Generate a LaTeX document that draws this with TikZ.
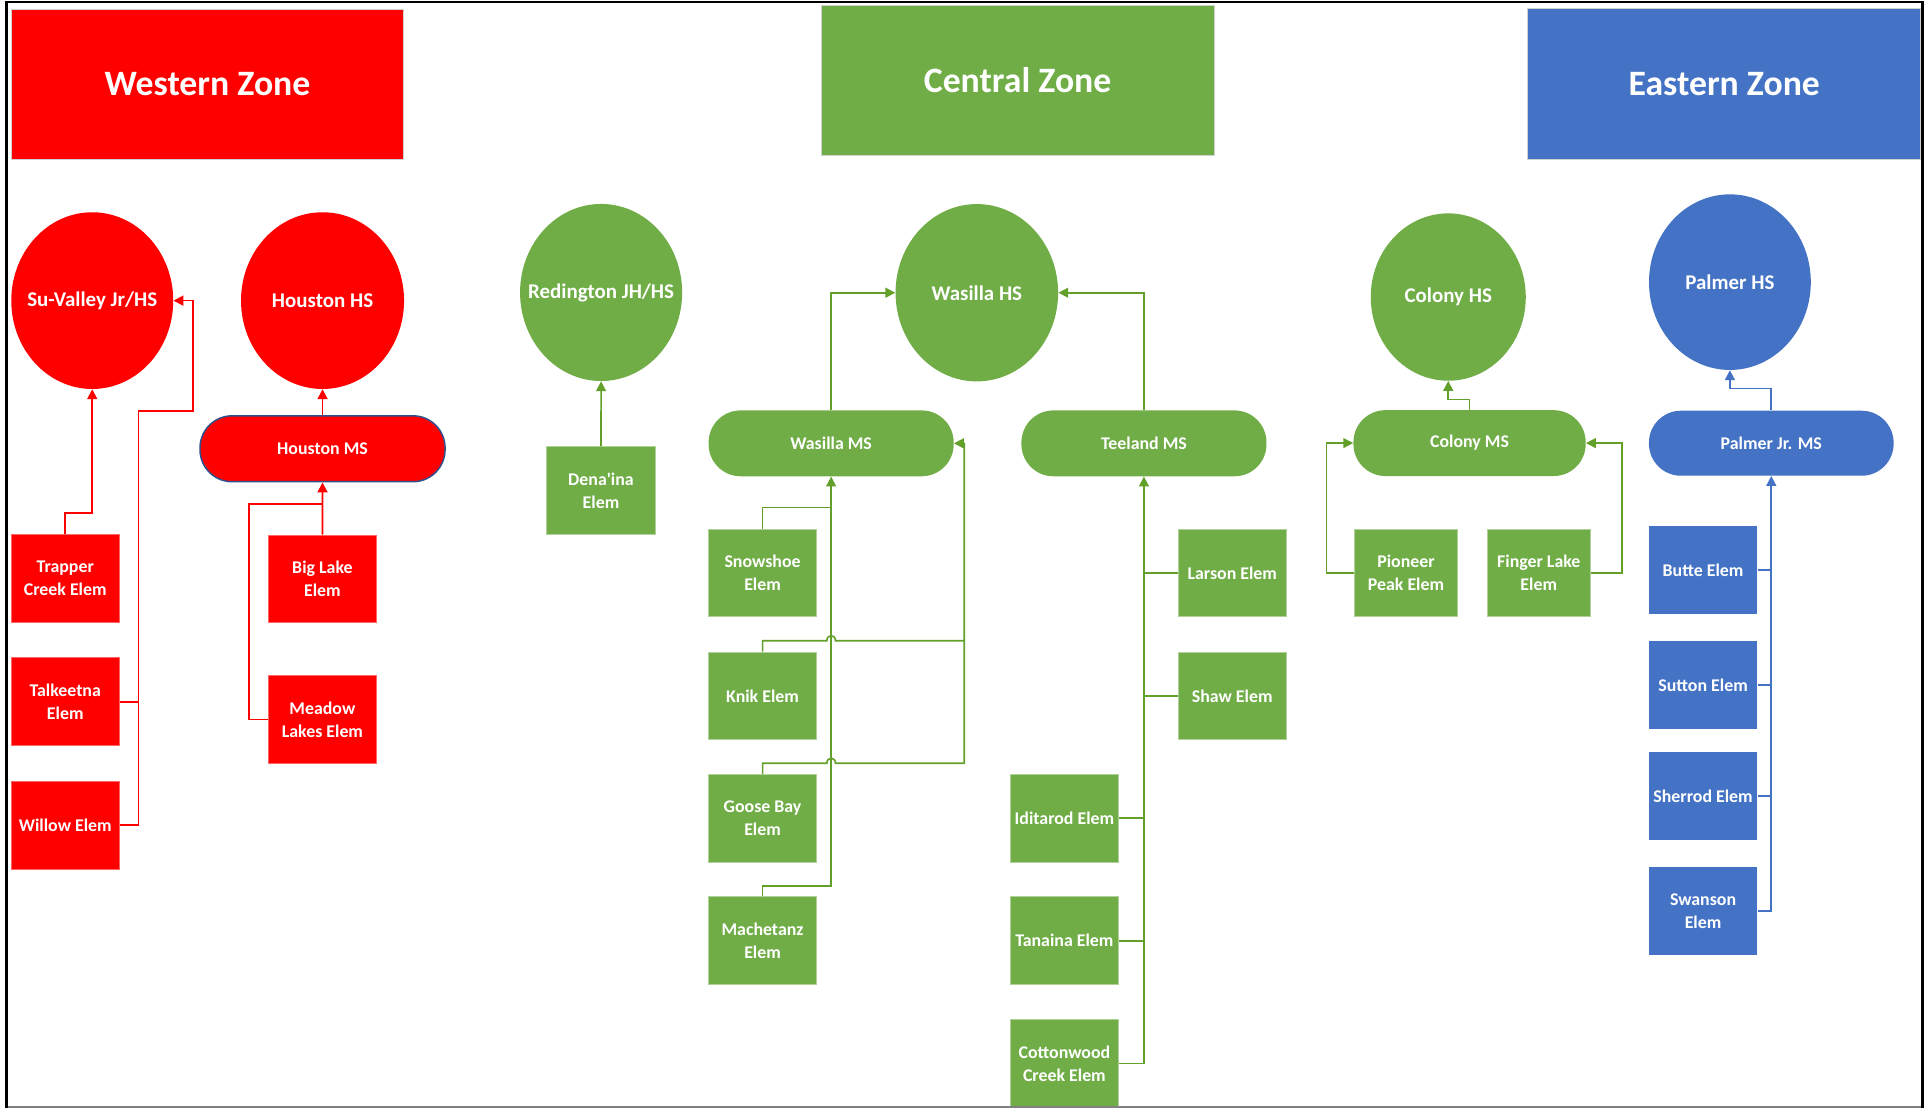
\documentclass[tikz,border=0pt]{standalone}
\usepackage{fontspec}
\setmainfont{Carlito}[Ligatures=TeXOff]
\usetikzlibrary{shapes.geometric,arrows.meta}
\definecolor{zred}{HTML}{FF0000}
\definecolor{zgreen}{HTML}{70AD47}
\definecolor{zblue}{HTML}{4472C4}
\definecolor{lgreen}{HTML}{62A02A}
\definecolor{hmsb}{HTML}{2F528F}
\begin{document}
\begin{tikzpicture}[x=1pt,y=-1pt,
  hdr/.style={rectangle, minimum width=319pt, minimum height=122pt, inner sep=0pt, text=white, font=\bfseries\fontsize{29}{34}\selectfont, draw=black!18, line width=0.8pt},
  hs/.style={ellipse, inner sep=0pt, text=white, font=\bfseries\fontsize{17}{20}\selectfont},
  ms/.style={rectangle, rounded corners=26pt, minimum width=199pt, minimum height=53.5pt, inner sep=0pt, text=white, font=\bfseries\fontsize{14.5}{18}\selectfont},
  el/.style={rectangle, minimum width=88pt, minimum height=71.3pt, inner sep=0pt, text=white, align=center, font=\bfseries\fontsize{14.5}{18.5}\selectfont},
  gbox/.style={el, fill=zgreen, draw=zgreen!55!white, line width=0.6pt},
  rbox/.style={el, fill=zred, draw=zred!60!white, line width=0.6pt},
  bbox/.style={el, fill=zblue},
  headend/.style={-{Triangle[length=8pt,width=8pt]}},
  rl/.style={draw=zred, line width=1.4pt},
  gl/.style={draw=lgreen, line width=1.3pt},
  bl/.style={draw=zblue, line width=1.3pt}]
\useasboundingbox (0,0) rectangle (1568,900);

% zone headers
\node[hdr, fill=zred] (wz) at (168.5,68.4) {Western Zone};
\node[hdr, fill=zgreen] (cz) at (826.3,65.3) {Central Zone};
\node[hdr, fill=zblue] (ez) at (1400.1,68.2) {Eastern Zone};

% western zone
\node[hs, fill=zred, minimum width=131.5pt, minimum height=143.5pt] (suv) at (74.9,244.1) {\makebox[0pt]{Su-Valley Jr/HS}};
\node[hs, fill=zred, minimum width=132.4pt, minimum height=143.5pt] (hhs) at (261.9,244.1) {\makebox[0pt]{Houston HS}};
\node[ms, fill=zred, draw=hmsb, line width=1.2pt] (hms) at (261.9,364.4) {Houston MS};
\node[rbox] (trapper) at (53,469.8) {Trapper\\Creek Elem};
\node[rbox] (talk) at (53,569.8) {Talkeetna\\Elem};
\node[rbox] (willow) at (53,670) {Willow Elem};
\node[rbox] (biglake) at (261.8,470) {Big Lake\\Elem};
\node[rbox] (meadow) at (261.8,584.2) {Meadow\\Lakes Elem};

% central zone
\node[hs, fill=zgreen, minimum width=131.6pt, minimum height=143.8pt] (red) at (488.1,237.5) {\makebox[0pt]{Redington JH/HS}};
\node[gbox] (dena) at (488,398.4) {Dena'ina\\Elem};
\node[hs, fill=zgreen, minimum width=132pt, minimum height=144pt] (whs) at (793.2,237.7) {\makebox[0pt]{Wasilla HS}};
\node[ms, fill=zgreen] (wms) at (674.9,360) {Wasilla MS};
\node[ms, fill=zgreen] (tms) at (928.9,360) {Teeland MS};
\node[gbox] (snow) at (619.2,465.2) {Snowshoe\\Elem};
\node[gbox] (knik) at (619.2,565) {Knik Elem};
\node[gbox] (goose) at (619.2,664.4) {Goose Bay\\Elem};
\node[gbox] (mach) at (619.2,763.9) {Machetanz\\Elem};
\node[gbox] (larson) at (1000.6,465.2) {Larson Elem};
\node[gbox] (shaw) at (1000.6,565) {Shaw Elem};
\node[gbox] (idit) at (864.3,664.4) {Iditarod Elem};
\node[gbox] (tan) at (864.3,763.9) {Tanaina Elem};
\node[gbox] (cott) at (864.3,863.5) {Cottonwood\\Creek Elem};
\node[hs, fill=zgreen, minimum width=125.9pt, minimum height=135.9pt] (chs) at (1176,241.2) {\makebox[0pt]{Colony HS}};
\node[ms, fill=zgreen, minimum width=188.6pt] (cms) at (1193.3,359.8) {Colony MS};
\node[gbox, minimum width=83.4pt] (pion) at (1141.7,465.1) {Pioneer\\Peak Elem};
\node[gbox, minimum width=83.4pt] (fing) at (1249.5,465.1) {Finger Lake\\Elem};

% eastern zone
\node[hs, fill=zblue, minimum width=131.4pt, minimum height=142.6pt] (phs) at (1404.7,229.1) {\makebox[0pt]{Palmer HS}};
\node[ms, fill=zblue, minimum width=198.7pt, minimum height=52.8pt] (pms) at (1438.3,359.9) {Palmer Jr. MS};
\node[bbox] (butte) at (1382.9,462.8) {Butte Elem};
\node[bbox] (sutton) at (1382.9,556.1) {Sutton Elem};
\node[bbox] (sherrod) at (1382.9,646.3) {Sherrod Elem};
\node[bbox] (swanson) at (1382.9,739.6) {Swanson\\Elem};

% bend points
\coordinate (tj) at (74.9,416.4);
\coordinate (wv) at (112.4,333.5);
\coordinate (wr) at (156.6,333.5);
\coordinate (mj) at (201.9,409);
\coordinate (mchj) at (674.9,719.2);
\coordinate (snj) at (674.9,412.2);
\coordinate (rv) at (783,360);
\coordinate (cj) at (1176,324.3);
\coordinate (pj) at (1077.2,465.1);
\coordinate (fj) at (1317.3,465.1);
\coordinate (phj) at (1404.7,315.3);

% western connectors
\draw[rl, headend] (trapper.north) |- (tj) -- (suv.south);
\draw[rl, headend] (willow.east) -| (wv) -- (wr) |- (suv.east);
\draw[rl] (talk.east) -- (talk.east -| wv);
\draw[rl, headend] (biglake.north) -- (hms.south);
\draw[rl] (meadow.west) -| (mj) -- (mj -| hms.south);
\draw[rl, headend] (hms.north) -- (hhs.south);

% central connectors
\draw[gl, headend] (dena.north) -- (red.south);
\draw[gl, headend] (wms.north) |- (whs.west);
\draw[gl, headend] (tms.north) |- (whs.east);
\draw[gl, headend] (mach.north) |- (mchj) -- (wms.south);
\draw[gl] (snow.north) |- (snj);
\draw[gl] (knik.north) |- (671.4,520.3) .. controls (671.4,514.8) and (678.4,514.8) .. (678.4,520.3) -- (783,520.3);
\draw[gl, headend] (goose.north) |- (671.4,619.8) .. controls (671.4,614.3) and (678.4,614.3) .. (678.4,619.8) -| (rv) -- (wms.east);
\draw[gl, headend] (cott.east) -| (tms.south);
\draw[gl] (tan.east) -- (tan.east -| tms.south);
\draw[gl] (idit.east) -- (idit.east -| tms.south);
\draw[gl] (larson.west) -- (larson.west -| tms.south);
\draw[gl] (shaw.west) -- (shaw.west -| tms.south);
\draw[gl, headend] (cms.north) |- (cj) -- (chs.south);
\draw[gl, headend] (pion.west) -- (pj) |- (cms.west);
\draw[gl, headend] (fing.east) -- (fj) |- (cms.east);

% eastern connectors
\draw[bl, headend] (pms.north) |- (phj) -- (phs.south);
\draw[bl, headend] (swanson.east) -| (pms.south);
\draw[bl] (butte.east) -- (butte.east -| pms.south);
\draw[bl] (sutton.east) -- (sutton.east -| pms.south);
\draw[bl] (sherrod.east) -- (sherrod.east -| pms.south);

% frame
\draw[black!50, line width=1.5pt] (5.5,898.6) -- (1560.8,898.6);
\draw[black, line width=2.2pt] (5.5,899.5) -- (5.5,1.6) -- (1560.8,1.6) -- (1560.8,899.5);
\end{tikzpicture}
\end{document}
